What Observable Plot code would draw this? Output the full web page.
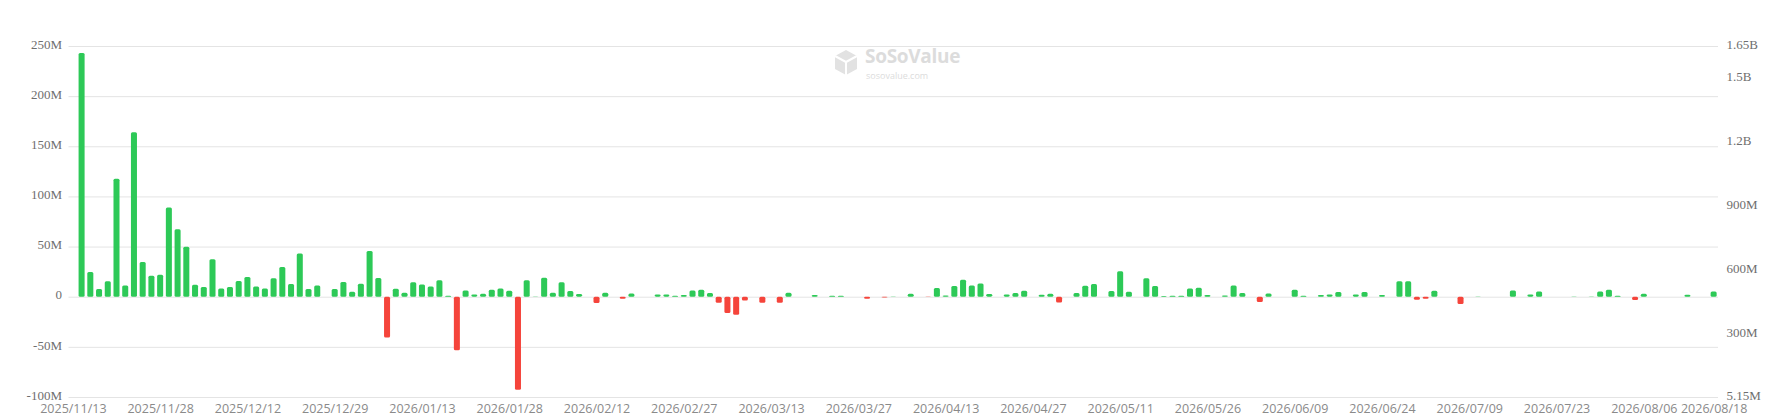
<!DOCTYPE html>
<html>
<head>
<meta charset="utf-8">
<script src="https://cdn.jsdelivr.net/npm/d3@7"></script>
<script src="https://cdn.jsdelivr.net/npm/@observablehq/plot@0.6"></script>
<style>
  body { margin: 0; background: #fff; }
  #wrap { position: relative; width: 1773px; height: 420px; }
  #mark { position: absolute; left: 833px; top: 49px; color: #dcdcdc; font-family: "Open Sans", sans-serif; pointer-events: none; }
  #mark svg { position: absolute; left: 0; top: 0; }
  #mark .name { position: absolute; left: 32px; top: -2px; font-size: 19px; line-height: 18px; font-weight: 700; letter-spacing: -0.3px; white-space: nowrap; }
  #mark .site { position: absolute; left: 33px; top: 22px; font-size: 9px; line-height: 9px; white-space: nowrap; }
</style>
</head>
<body>
<div id="wrap">
  <div id="chart"></div>
  <div id="mark">
    <svg width="26" height="27" viewBox="0 0 26 27">
      <path d="M13 1 L24 7 L24 20 L13 26 L2 20 L2 7 Z" fill="#e2e2e2"/>
      <path d="M13 13 L24 7 M13 13 L2 7 M13 13 L13 26" stroke="#fff" stroke-width="2" fill="none"/>
    </svg>
    <div class="name">SoSoValue</div>
    <div class="site">sosovalue.com</div>
  </div>
</div>
<script>
// días de negociación (categorías del eje x)
const dates = [
  '2025/11/13','2025/11/14','2025/11/17','2025/11/18','2025/11/19','2025/11/20','2025/11/21','2025/11/24','2025/11/25','2025/11/26','2025/11/28',
  '2025/12/01','2025/12/02','2025/12/03','2025/12/04','2025/12/05','2025/12/08','2025/12/09','2025/12/10','2025/12/11','2025/12/12',
  '2025/12/15','2025/12/16','2025/12/17','2025/12/18','2025/12/19','2025/12/22','2025/12/23','2025/12/24','2025/12/26','2025/12/29',
  '2025/12/30','2025/12/31','2026/01/02','2026/01/05','2026/01/06','2026/01/07','2026/01/08','2026/01/09','2026/01/12','2026/01/13',
  '2026/01/14','2026/01/15','2026/01/16','2026/01/20','2026/01/21','2026/01/22','2026/01/23','2026/01/26','2026/01/27','2026/01/28',
  '2026/01/29','2026/02/02','2026/02/03','2026/02/04','2026/02/05','2026/02/06','2026/02/09','2026/02/10','2026/02/11','2026/02/12',
  '2026/02/13','2026/02/17','2026/02/18','2026/02/19','2026/02/20','2026/02/23','2026/02/24','2026/02/25','2026/02/26','2026/02/27',
  '2026/03/02','2026/03/03','2026/03/04','2026/03/05','2026/03/06','2026/03/09','2026/03/10','2026/03/11','2026/03/12','2026/03/13',
  '2026/03/16','2026/03/17','2026/03/18','2026/03/19','2026/03/20','2026/03/23','2026/03/24','2026/03/25','2026/03/26','2026/03/27',
  '2026/03/30','2026/03/31','2026/04/01','2026/04/02','2026/04/06','2026/04/07','2026/04/08','2026/04/09','2026/04/10','2026/04/13',
  '2026/04/14','2026/04/15','2026/04/16','2026/04/17','2026/04/20','2026/04/21','2026/04/22','2026/04/23','2026/04/24','2026/04/27',
  '2026/04/28','2026/04/29','2026/04/30','2026/05/01','2026/05/04','2026/05/05','2026/05/06','2026/05/07','2026/05/08','2026/05/11',
  '2026/05/12','2026/05/13','2026/05/14','2026/05/15','2026/05/18','2026/05/19','2026/05/20','2026/05/21','2026/05/22','2026/05/26',
  '2026/05/27','2026/05/28','2026/05/29','2026/06/01','2026/06/02','2026/06/03','2026/06/04','2026/06/05','2026/06/08','2026/06/09',
  '2026/06/10','2026/06/11','2026/06/12','2026/06/15','2026/06/16','2026/06/17','2026/06/18','2026/06/22','2026/06/23','2026/06/24',
  '2026/06/25','2026/06/26','2026/06/29','2026/06/30','2026/07/01','2026/07/02','2026/07/06','2026/07/07','2026/07/08','2026/07/09',
  '2026/07/10','2026/07/13','2026/07/14','2026/07/15','2026/07/16','2026/07/17','2026/07/20','2026/07/21','2026/07/22','2026/07/23',
  '2026/07/24','2026/07/27','2026/07/28','2026/07/29','2026/07/30','2026/07/31','2026/08/03','2026/08/04','2026/08/05','2026/08/06',
  '2026/08/07','2026/08/10','2026/08/11','2026/08/12','2026/08/13','2026/08/14','2026/08/17','2026/08/18'
]

// flujo neto diario, en millones (null = sin barra)
const flows = [
  null, 243, 24.7, 7.7, 15.3, 117.7, 11.3, 164, 34.7, 21, 22,
  89, 67.3, 49.7, 12, 9.7, 37.3, 8.3, 9.7, 15.7, 19.7,
  10.3, 8.3, 18.3, 29.7, 12.7, 43, 7.7, 11.3, null, 7.7,
  14.7, 5, 13, 45.7, 18.7, -40.7, 8, 4, 14.3, 12.3,
  10.3, 16.3, 1, -53.3, 6.3, 2.3, 3, 7, 8.3, 6,
  -92.7, 16.3, 0.3, 19, 4, 14.3, 5.7, 2.7, null, -6.3,
  4, null, -2, 3.3, null, null, 2.3, 2.3, 1, 1.7,
  6.3, 7, 3.7, -6, -16.3, -18, -3.7, null, -6, null,
  -6, 4, null, null, 1.7, null, 1, 1, null, null,
  -2, null, -0.7, 0.3, null, 3, null, -0.3, 8.7, 1.3,
  10.7, 17, 11.3, 13.3, 2.7, null, 2.3, 3.7, 6, null,
  2, 3, -5.7, null, 3.7, 11, 12.7, null, 5.7, 25.3,
  5, null, 18.3, 10.7, 0.7, 1, 1, 8.3, 9, 1.7,
  null, 1.3, 11.3, 3.7, null, -5.3, 3.3, null, null, 7,
  1, null, 1.7, 2.3, 4.7, null, 2.3, 4.7, null, 1.7,
  null, 15.3, 15.3, -3, -2, 6, null, null, -7.3, null,
  0.3, null, null, null, 6.3, null, 2.3, 5.3, null, null,
  null, 0.3, null, 0.3, 5.3, 7, 1, null, -3.3, 3,
  null, null, null, null, 2, null, null, 5.3
]

// ticks eje izquierdo (millones)
const leftTicks = [-100, -50, 0, 50, 100, 150, 200, 250]
// ticks eje derecho (millones) y sus etiquetas
const rightTicks = [5.15, 300, 600, 900, 1200, 1500, 1650]
const rightLabels = ['5.15M', '300M', '600M', '900M', '1.2B', '1.5B', '1.65B']

// etiquetas x: cada 10 días + la última
const xTicks = dates.filter((d, i) => i % 10 === 0 || i === dates.length - 1)

const green = '#2dc957'
const red = '#f5443b'

const data = dates.map((date, i) => ({ date, flow: flows[i] })).filter(d => d.flow !== null)

// eje derecho: se lleva a la escala izquierda
const toLeft = v => -100 + (v - 5.15) / (1650 - 5.15) * 350
const rightMap = new Map(rightTicks.map((v, i) => [toLeft(v), rightLabels[i]]))

let chart = Plot.plot({
  width: 1773,
  height: 420,
  marginLeft: 68.5,
  marginRight: 55,
  marginTop: 46,
  marginBottom: 23,
  x: { type: 'band', domain: dates, paddingInner: 0.31, paddingOuter: 0.155, label: null },
  y: { domain: [-100, 250], label: null },
  marks: [
    Plot.gridY(leftTicks, { stroke: '#e4e4e4', strokeOpacity: 1 }),
    Plot.barY(data.filter(d => d.flow >= 0), { x: 'date', y: 'flow', fill: green, rx: 1.5 }),
    Plot.barY(data.filter(d => d.flow < 0), { x: 'date', y: 'flow', fill: red, rx: 1.5 }),
    Plot.axisY(leftTicks, {
      anchor: 'left', tickSize: 0, tickPadding: 7, dy: -2,
      tickFormat: d => d === 0 ? '0' : d + 'M',
      fontFamily: 'Liberation Serif', fontSize: 13, fill: '#6e6e6e'
    }),
    Plot.axisY(rightTicks.map(toLeft), {
      anchor: 'right', tickSize: 0, tickPadding: 8, dy: -2,
      tickFormat: d => rightMap.get(d),
      fontFamily: 'Liberation Serif', fontSize: 13, fill: '#6e6e6e'
    }),
    Plot.axisX(xTicks, {
      tickSize: 0, tickPadding: 7,
      fontFamily: 'Open Sans', fontSize: 12.5, fill: '#8a8a8a'
    })
  ]
})

d3.select('#chart').append(() => chart)
</script>
</body>
</html>
